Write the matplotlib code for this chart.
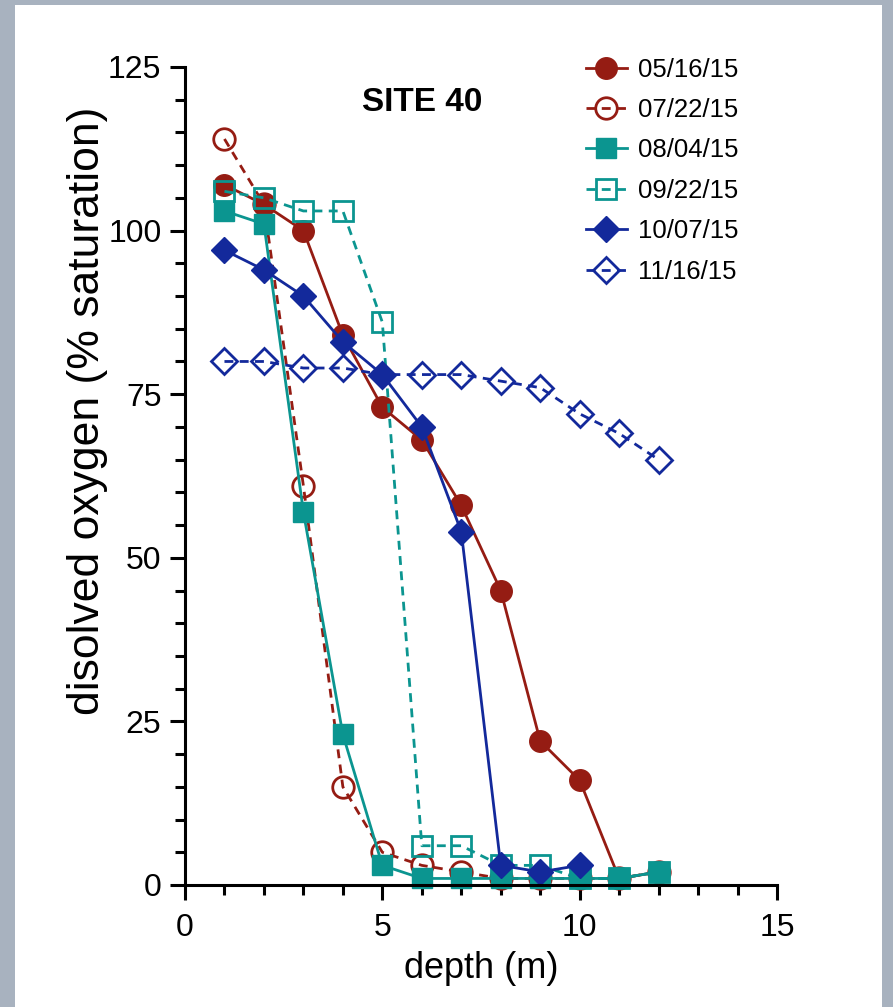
import matplotlib
matplotlib.use("Agg")
import matplotlib.pyplot as plt
from matplotlib.patches import Rectangle
from matplotlib.ticker import MultipleLocator

plt.rcParams['font.family'] = ['Liberation Sans', 'DejaVu Sans']

depth = [1, 2, 3, 4, 5, 6, 7, 8, 9, 10, 11, 12]
do_0516 = [107, 104, 100, 84, 73, 68, 58, 45, 22, 16, 1, 2]
do_0722 = [114, 104, 61, 15, 5, 3, 2, 1, 1, 1, 1, 2]
do_0804 = [103, 101, 57, 23, 3, 1, 1, 1, 1, 1, 1, 2]
do_0922 = [106, 105, 103, 103, 86, 6, 6, 3, 3, 1, 1, 2]
depth_1007 = [1, 2, 3, 4, 5, 6, 7, 8, 9, 10]
do_1007 = [97, 94, 90, 83, 78, 70, 54, 3, 2, 3]
do_1116 = [80, 80, 79, 79, 78, 78, 78, 77, 76, 72, 69, 65]

red = '#951c13'
teal = '#0b9590'
navy = '#13299b'

fig = plt.figure(figsize=(8.93, 10.07), dpi=100)
fig.patch.set_facecolor('#a8b2bf')
fig.patches.append(Rectangle((15 / 893, 0), 867 / 893, 1 - 5 / 1007,
                             transform=fig.transFigure, facecolor='white',
                             edgecolor='none', zorder=-10))

ax = fig.add_axes([185 / 893, 1 - 885 / 1007, 592 / 893, 818 / 1007])
ax.patch.set_alpha(0)

lw = 2.0
mew = 2.0
dash = (3.2, 2.3)
ax.plot(depth, do_0516, '-o', color=red, lw=lw, ms=15.5, label='05/16/15')
ax.plot(depth, do_0722, '--o', color=red, lw=lw, ms=15.5, mfc='none', mew=mew,
        dashes=dash, label='07/22/15')
ax.plot(depth, do_0804, '-s', color=teal, lw=lw, ms=14.5, label='08/04/15')
ax.plot(depth, do_0922, '--s', color=teal, lw=lw, ms=14.5, mfc='none', mew=mew,
        dashes=dash, label='09/22/15')
ax.plot(depth_1007, do_1007, '-D', color=navy, lw=lw, ms=13, label='10/07/15')
ax.plot(depth, do_1116, '--D', color=navy, lw=lw, ms=13, mfc='none', mew=mew,
        dashes=dash, label='11/16/15')

ax.set_xlim(0, 15)
ax.set_ylim(0, 125)
for s in ['top', 'right']:
    ax.spines[s].set_visible(False)
for s in ['left', 'bottom']:
    ax.spines[s].set_linewidth(2.2)
ax.xaxis.set_major_locator(MultipleLocator(5))
ax.xaxis.set_minor_locator(MultipleLocator(1))
ax.yaxis.set_major_locator(MultipleLocator(25))
ax.yaxis.set_minor_locator(MultipleLocator(5))
ax.tick_params(which='major', length=11, width=2.2, labelsize=23, pad=6)
ax.tick_params(axis='x', which='major', pad=9)
ax.tick_params(which='minor', length=7, width=2.2)

ax.set_xlabel('depth (m)', fontsize=26, labelpad=6)
ax.set_ylabel('disolved oxygen (% saturation)', fontsize=32)
ax.yaxis.set_label_coords(-0.13, 0.58)
ax.text(0.299, 0.956, 'SITE 40', transform=ax.transAxes, fontsize=24,
        fontweight='bold', ha='left', va='center')

for ln in ax.lines:
    ln.set_clip_on(False)

ax.legend(loc='upper left', bbox_to_anchor=(565 / 893, 1 - 37 / 1007),
          bbox_transform=fig.transFigure, frameon=False, fontsize=18.5,
          handlelength=1.6, labelspacing=0.64, handletextpad=0.45,
          markerscale=1.0, borderpad=0.3)

fig.savefig('out.png', dpi=100, facecolor=fig.get_facecolor())
